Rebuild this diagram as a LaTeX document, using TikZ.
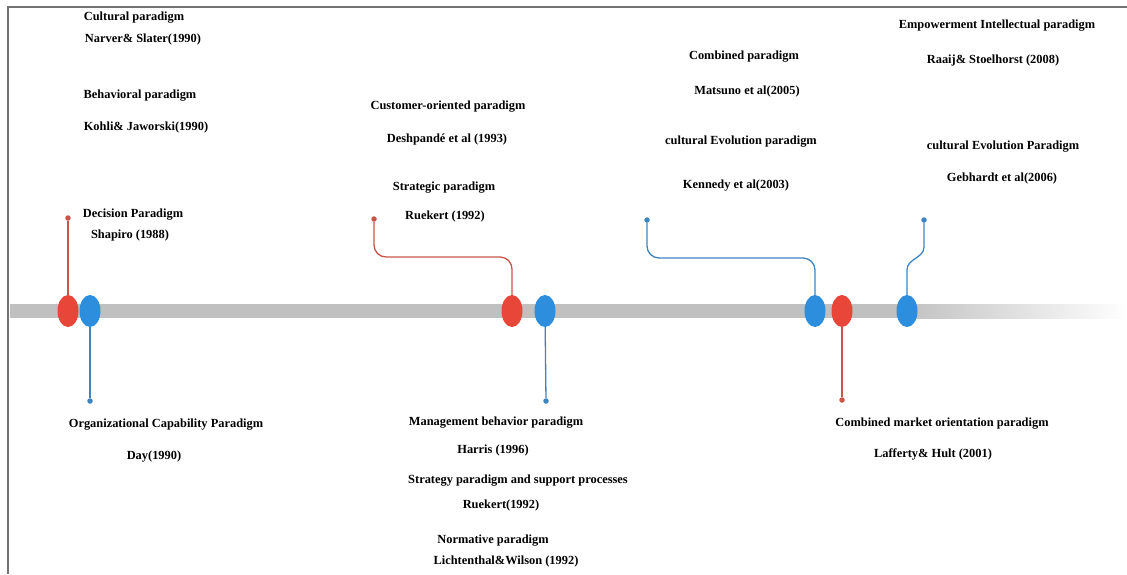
\documentclass[tikz,border=0pt]{standalone}
\usepackage{fontspec}
\setmainfont{Liberation Serif}
\usepackage{tikz}
\usetikzlibrary{positioning,shapes.geometric}
\definecolor{mred}{RGB}{232,70,56}
\definecolor{mblue}{RGB}{44,142,220}
\definecolor{stemred}{RGB}{200,85,72}
\definecolor{stemblue}{RGB}{62,132,192}
\definecolor{bargray}{RGB}{192,192,192}
\tikzset{
  every node/.style={
    inner sep=1pt,
    font=\fontsize{12.4}{14}\selectfont\bfseries
  },
  mark red/.style={ellipse, fill=mred, minimum width=21pt, minimum height=32pt, inner sep=0pt},
  mark blue/.style={ellipse, fill=mblue, minimum width=21pt, minimum height=32pt, inner sep=0pt},
  pin red/.style={circle, fill=stemred, minimum size=5.5pt, inner sep=0pt},
  pin blue/.style={circle, fill=stemblue, minimum size=5.5pt, inner sep=0pt},
  stem red/.style={draw=stemred, line width=1.3pt},
  stem blue/.style={draw=stemblue, line width=1.3pt}
}

\begin{document}
\begin{tikzpicture}[x=1pt,y=-1pt]
        \useasboundingbox (0,0) rectangle (1127,574);
        \draw[gray!90!black, line width=1.5pt] (8,574) -- (8,7) -- (1127,7);
        % time bar
        \fill[bargray] (10,304) rectangle (900,318);
        \shade[left color=bargray, right color=white] (899,304) rectangle (1127,318);
        % markers on the bar
        \node[mark red] (r1) at (68,311) {};
        \node[mark blue] (b1) at (90,311) {};
        \node[mark red] (r2) at (512,311) {};
        \node[mark blue] (b2) at (545,311) {};
        \node[mark blue] (b3) at (815,311) {};
        \node[mark red] (r3) at (842,311) {};
        \node[mark blue] (b4) at (907,311) {};
        % pins
        \node[pin red] (pr1) at (68,218) {};
        \node[pin blue] (pb1) at (90,401) {};
        \node[pin red] (pr2) at (374,219) {};
        \node[pin blue] (pb2) at (546,401) {};
        \node[pin blue] (pb3) at (647,220) {};
        \node[pin red] (pr3) at (842,400) {};
        \node[pin blue] (pb4) at (924,220) {};
        % stems
        \draw[stem red] (r1) -- (pr1);
        \draw[stem blue] (b1) -- (pb1);
        \draw[stem red, rounded corners=12pt] (r2.north) |- ([yshift=-38pt]pr2.center) -- (pr2);
        \draw[stem blue] (b2) -- (pb2);
        \draw[stem blue, rounded corners=12pt] (b3.north) |- ([yshift=-38pt]pb3.center) -- (pb3);
        \draw[stem red] (r3) -- (pr3);
        \draw[stem blue] (b4.north) -- ++(0,-25) to[out=90,in=-90] ([yshift=-27pt]pb4.center) -- (pb4);
        % labels above
        \node (cult) at (134,18) {Cultural paradigm};
        \node (cultref) at (143,40) {Narver\& Slater(1990)};
        \node (behav) at (140,96) {Behavioral paradigm};
        \node (behavref) at (146,128) {Kohli\& Jaworski(1990)};
        \node (decis) at (133,215) {Decision Paradigm};
        \node (decisref) at (130,236) {Shapiro (1988)};
        \node (cust) at (448,107) {Customer-oriented paradigm};
        \node (custref) at (447,140) {Deshpandé et al (1993)};
        \node (strat) at (444,188) {Strategic paradigm};
        \node (stratref) at (445,217) {Ruekert (1992)};
        \node (comb) at (744,57) {Combined paradigm};
        \node (combref) at (747,92) {Matsuno et al(2005)};
        \node (evol) at (741,142) {cultural Evolution paradigm};
        \node (evolref) at (736,186) {Kennedy et al(2003)};
        \node (empow) at (997,26) {Empowerment Intellectual paradigm};
        \node (empowref) at (993,61) {Raaij\& Stoelhorst (2008)};
        \node (evoltwo) at (1003,147) {cultural Evolution Paradigm};
        \node (evoltworef) at (1002,179) {Gebhardt et al(2006)};
        % labels below
        \node (org) at (166,425) {Organizational Capability Paradigm};
        \node (orgref) at (154,457) {Day(1990)};
        \node (manag) at (496,423) {Management behavior paradigm};
        \node (managref) at (493,451) {Harris (1996)};
        \node (supp) at (518,481) {Strategy paradigm and support processes};
        \node (suppref) at (501,506) {Ruekert(1992)};
        \node (norm) at (493,541) {Normative paradigm};
        \node (normref) at (506,562) {Lichtenthal\&Wilson (1992)};
        \node (market) at (942,424) {Combined market orientation paradigm};
        \node (marketref) at (933,454) {Lafferty\& Hult (2001)};
      \end{tikzpicture}
\end{document}
